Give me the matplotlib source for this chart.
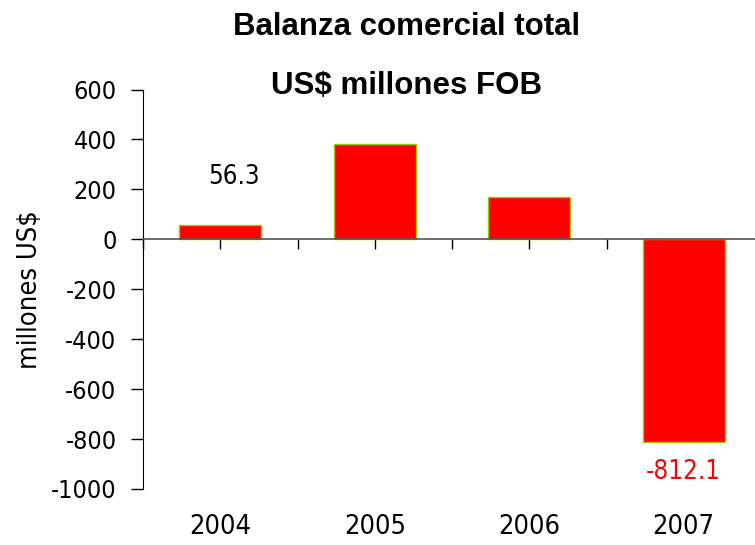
import matplotlib.pyplot as plt
import matplotlib.transforms as mtransforms

years = ['2004', '2005', '2006', '2007']
balanza = [56.3, 381.0, 168.0, -812.1]
y_ticks = [600, 400, 200, 0, -200, -400, -600, -800, -1000]

narrow = dict(family=['DejaVu Sans'], stretch='condensed')

fig = plt.figure(figsize=(7.55, 5.45), dpi=100)
ax = fig.add_axes([143 / 755, 1 - 489 / 545, 618 / 755, 399.5 / 545])

x = list(range(len(years)))
ax.bar(x, balanza, width=0.53, color='#FF0000', edgecolor='#99CC00', linewidth=1.0, zorder=2)

ax.set_xlim(-0.5, 3.5)
ax.set_ylim(-1000, 600)
ax.set_yticks(y_ticks)
ax.set_yticklabels([str(v) for v in y_ticks], fontsize=18, **narrow)
ax.tick_params(axis='y', direction='out', length=9, width=1, pad=10)

ax.spines['top'].set_visible(False)
ax.spines['right'].set_visible(False)
ax.spines['bottom'].set_position(('data', 0))
ax.spines['bottom'].set_color('#555555')
ax.spines['bottom'].set_linewidth(1.2)
ax.spines['bottom'].set_zorder(3)

# ticks on the zero line: boundaries and centres
ax.set_xticks([-0.5, 0.5, 1.5, 2.5, 3.5])
ax.set_xticklabels([])
ax.set_xticks(x, minor=True)
ax.tick_params(axis='x', which='both', direction='out', length=7, width=1, color='black')

trans = mtransforms.blended_transform_factory(ax.transData, ax.transAxes)
for xi, yr in zip(x, years):
    ax.text(xi, -0.095, yr, transform=trans, ha='center', va='center',
            fontsize=19.5, **narrow)

ax.text(0.09, 249, '56.3', ha='center', va='center', fontsize=18.5, color='black', **narrow)
ax.text(3, -932, '-812.1', ha='center', va='center', fontsize=18.5, color='#FF0000', **narrow)

ax.set_ylabel('millones US$', fontsize=19.5, labelpad=6, **narrow)

fig.text(407 / 755, 1 - 27 / 545, 'Balanza comercial total', ha='center', va='center',
         fontsize=22.5, fontweight='bold', family=['Liberation Sans', 'DejaVu Sans'])
fig.text(407 / 755, 1 - 86 / 545, 'US$ millones FOB', ha='center', va='center',
         fontsize=22.5, fontweight='bold', family=['Liberation Sans', 'DejaVu Sans'])

fig.savefig('out.png', dpi=100)
